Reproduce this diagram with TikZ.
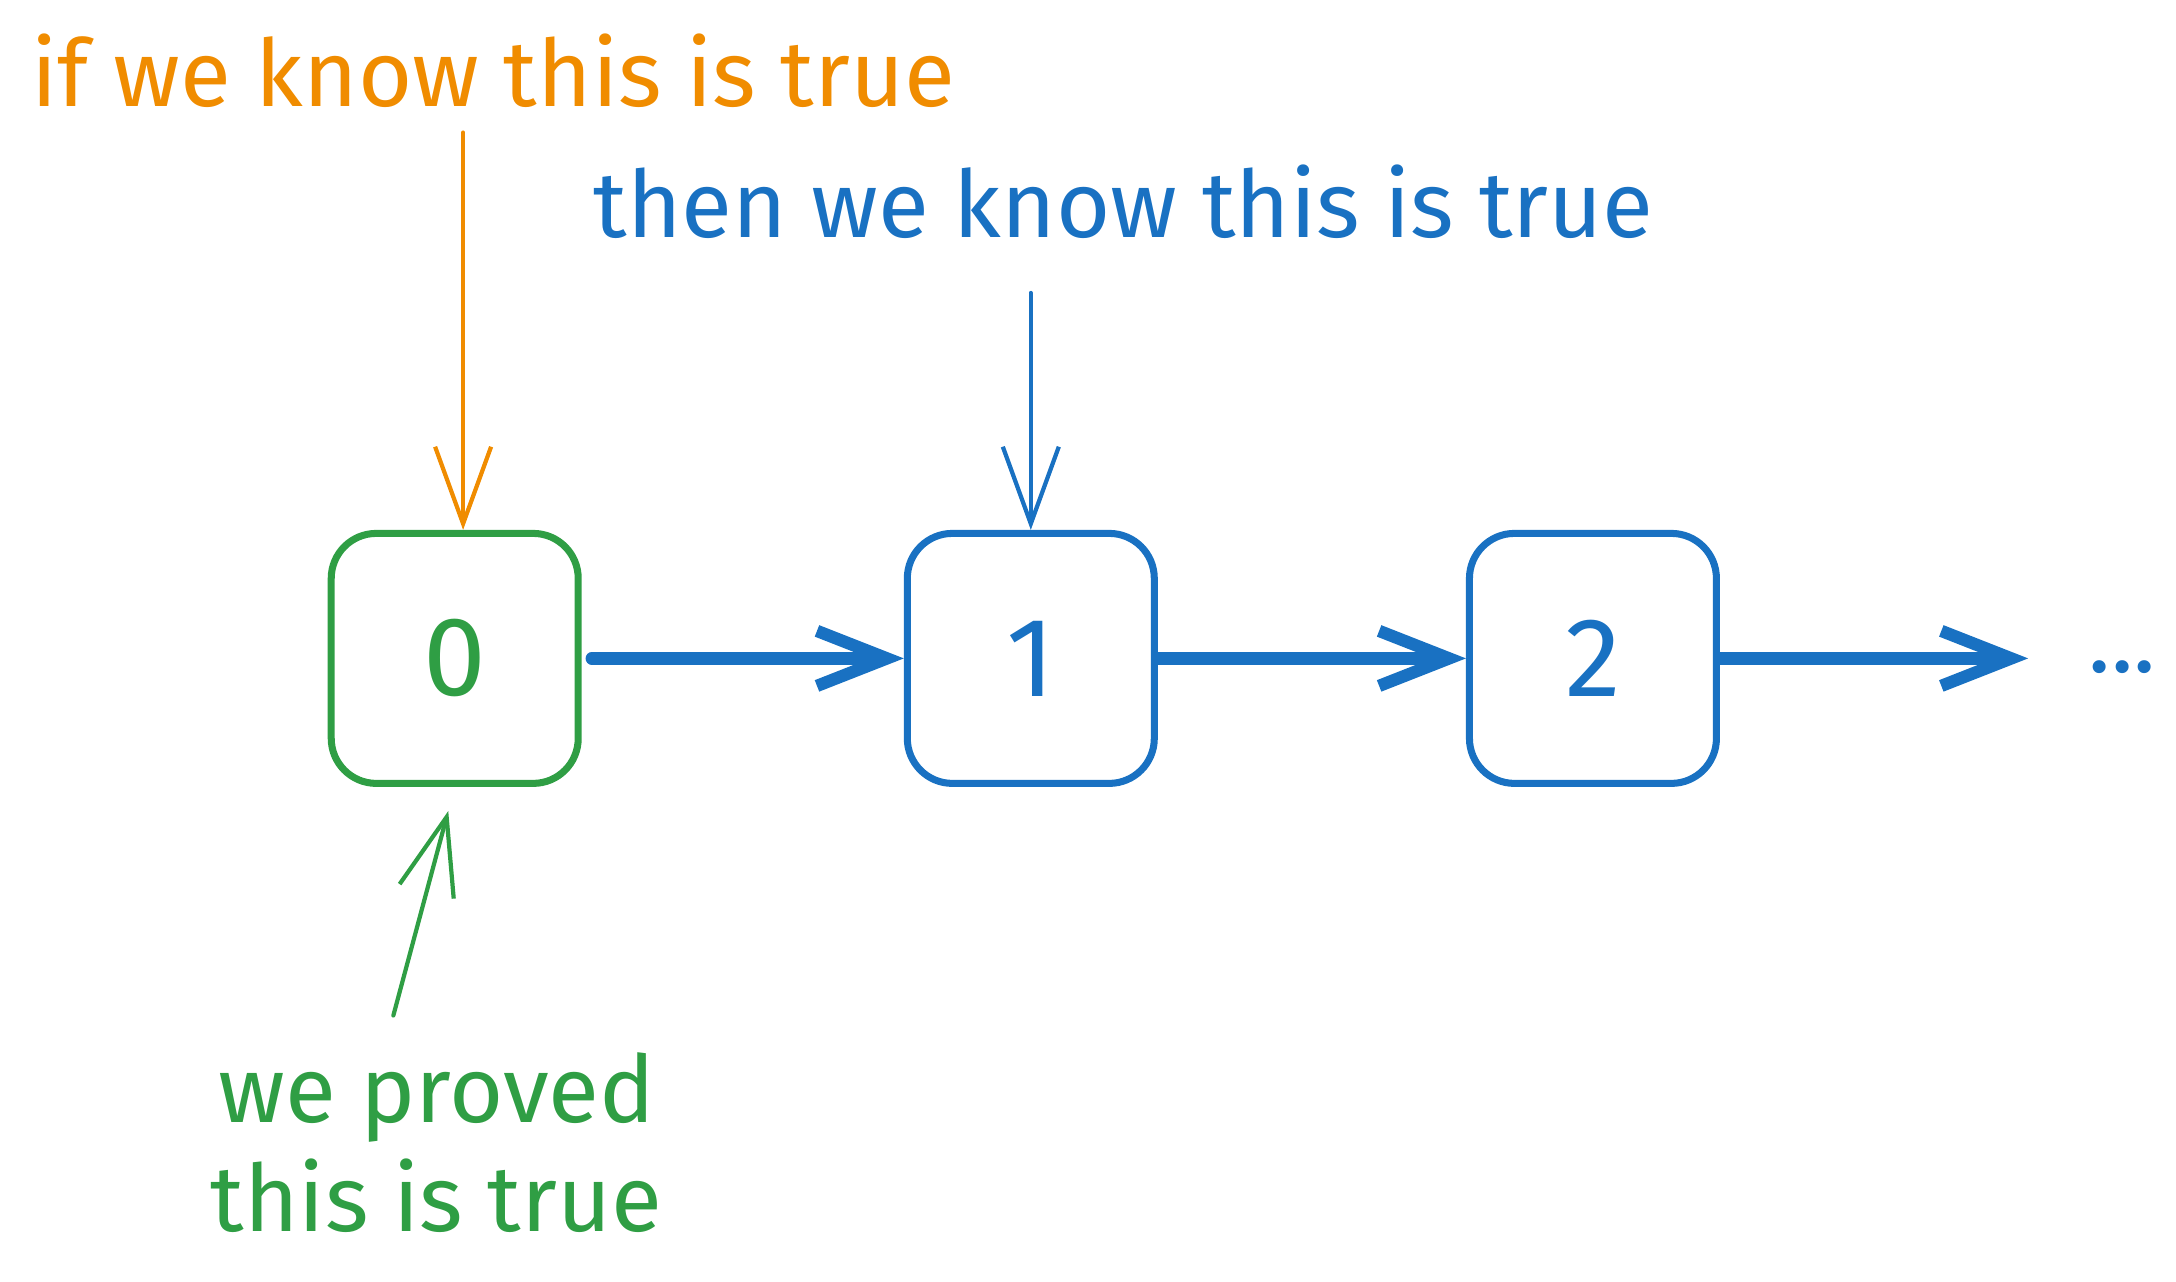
\documentclass[tikz,border=0pt]{standalone}
\usepackage{fontspec}
\setmainfont{Fira Sans}
\usetikzlibrary{arrows.meta}
\definecolor{inorange}{HTML}{F08C00}
\definecolor{inblue}{HTML}{1971C2}
\definecolor{ingreen}{HTML}{2F9E44}

\begin{document}
\begin{tikzpicture}[x=0.1395mm,y=-0.1395mm,
  numbox/.style={draw,line width=2pt,rounded corners=4.5mm,minimum width=24.7mm,minimum height=25mm,font=\fontsize{32}{38}\selectfont},
  note/.style={inner sep=0pt,font=\fontsize{26.5}{31}\selectfont},
  linkarrow/.style={inblue,line width=3.5pt,line cap=round,-{Straight Barb[length=7mm,width=5.5mm]}},
  pointer/.style={line width=1.2pt,line cap=round,-{Straight Barb[length=7.7mm,width=5.6mm]}}]
\useasboundingbox (0,0) rectangle (1560,919);
% labels
\node[note,inorange,anchor=base west] (iftext) at (22,76) {if we know this is true};
\node[note,inblue,anchor=base west] (thentext) at (425,170) {then we know this is true};
\node[note,ingreen,align=center,anchor=base] (provtext) at (313,883) {we proved\\this is true};
% the chain
\node[numbox,ingreen] (b0) at (326,472) {0};
\node[numbox,inblue] (b1) at (739,472) {1};
\node[numbox,inblue] (b2) at (1142,472) {2};
\node[note,inblue,anchor=west] (dots) at (1497,478) {...};
\draw [linkarrow,shorten <=1mm] (b0.east) -- (b1.west);
\draw [linkarrow] (b1.east) -- (b2.west);
\draw [linkarrow,shorten >=6mm] (b2.east) -- (b2.east -| dots.west);
% pointers
\coordinate (ifc) at (332,95);
\coordinate (thenc) at (739,210);
\coordinate (provc) at (282,728);
\draw [pointer,inorange] (ifc) -- (ifc |- b0.north);
\draw [pointer,inblue] (thenc) -- (b1.north);
\draw [pointer,ingreen,shorten >=2.5mm] (provc) -- (b0.south);
\end{tikzpicture}
\end{document}
